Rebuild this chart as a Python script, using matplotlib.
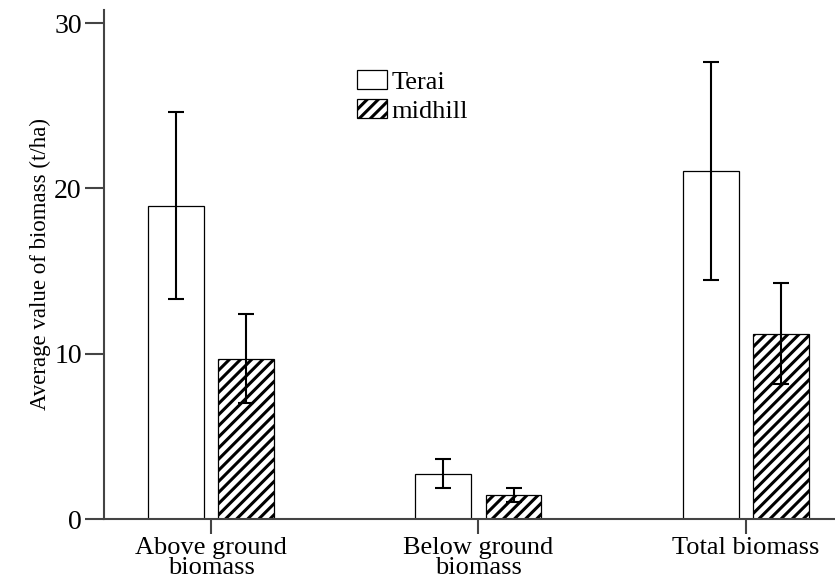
import numpy as np
import matplotlib.pyplot as plt

plt.rcParams['font.family'] = ['Liberation Serif', 'DejaVu Serif']
plt.rcParams['hatch.linewidth'] = 2.2

# data
categories = ['Above ground\nbiomass', 'Below ground\nbiomass', 'Total biomass']
terai = [18.95, 2.75, 21.05]
terai_err = [5.65, 0.88, 6.6]
midhill = [9.7, 1.45, 11.2]
midhill_err = [2.7, 0.42, 3.05]

x = np.arange(len(categories))
width = 0.209
offset = 0.131

fig = plt.figure(figsize=(8.35, 5.84), dpi=100)
ax = fig.add_axes([0.1246, 0.1113, 0.8754, 0.8717])

err_kw = dict(ecolor='black', elinewidth=1.5, capsize=6, capthick=1.5)
ax.bar(x - offset, terai, width, yerr=terai_err, color='white',
       edgecolor='black', linewidth=0.9, label='Terai', error_kw=err_kw)
ax.bar(x + offset, midhill, width, yerr=midhill_err, color='white',
       edgecolor='black', linewidth=0.9, hatch='///', label='midhill',
       error_kw=err_kw)

ax.set_xlim(-0.40, 2.333)
ax.set_ylim(0, 30.8)
ax.set_yticks([0, 10, 20, 30])
ax.set_xticks(x)
ax.set_xticklabels(categories, fontsize=19, linespacing=0.9)
ax.tick_params(axis='y', labelsize=20, length=14, width=1.5, pad=2,
               color='#444444')
ax.tick_params(axis='x', length=11, width=1.5, pad=2, color='#444444')

for s in ['top', 'right']:
    ax.spines[s].set_visible(False)
for s in ['left', 'bottom']:
    ax.spines[s].set_color('#444444')
    ax.spines[s].set_linewidth(1.5)

ax.set_ylabel('Average value of biomass (t/ha)', fontsize=16.5, labelpad=2)

ax.legend(loc='upper left', bbox_to_anchor=(0.346, 0.882), frameon=False,
          fontsize=19, handlelength=1.15, handleheight=0.75,
          handletextpad=0.15, labelspacing=0.2, borderpad=0,
          borderaxespad=0)

plt.savefig('out.png', dpi=100)
